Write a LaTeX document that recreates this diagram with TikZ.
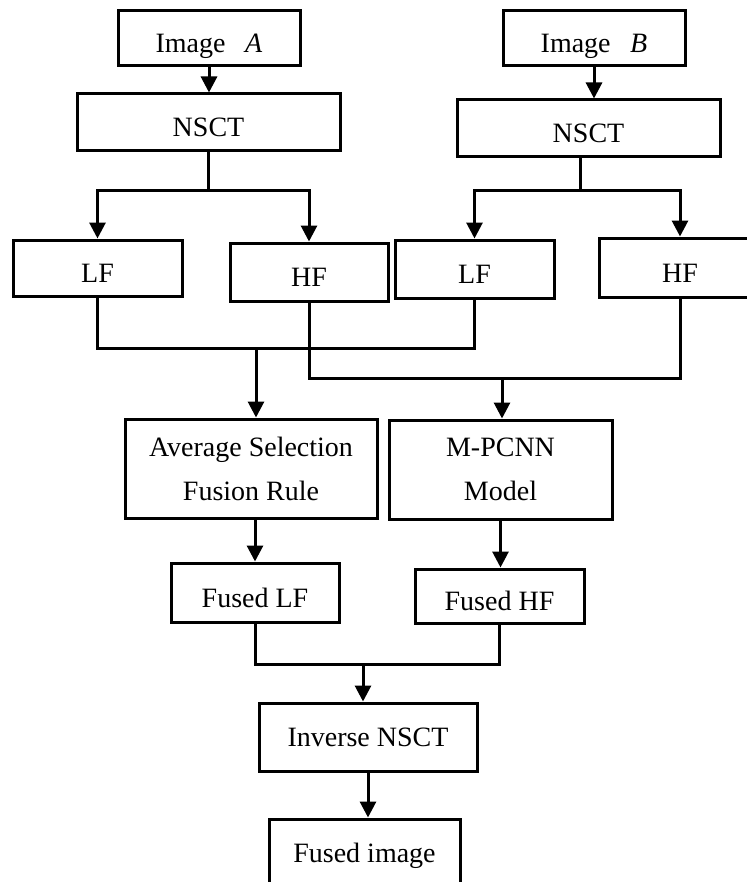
\documentclass[tikz,border=0pt]{standalone}
\usepackage{fontspec}
\setmainfont{Liberation Serif}
\usetikzlibrary{arrows.meta}
\tikzset{
  >={Triangle[length=8pt,width=8pt]},
  blk/.style={draw,line width=1.5pt,inner sep=2pt,text height=14.5pt,text depth=0pt},
  blkt/.style={draw,line width=1.5pt,inner sep=2pt,align=center},
  wire/.style={line width=1.5pt},
}

\begin{document}
\begin{tikzpicture}[x=0.5pt,y=-0.5pt,font=\fontsize{14}{22}\selectfont]
\clip (0,0) rectangle (747,882);

% the two source images
\node[blk,minimum width=91pt,minimum height=27.5pt] (imgA) at (209,38.5) {Image\hspace{0.7em}\textit{A}};
\node[blk,minimum width=91pt,minimum height=27.5pt] (imgB) at (594,38.5) {Image\hspace{0.7em}\textit{B}};
\node[blk,minimum width=131.5pt,minimum height=28.5pt] (nsctA) at (208.5,122.5) {NSCT};
\node[blk,minimum width=131.5pt,minimum height=28.5pt] (nsctB) at (588.5,128.5) {NSCT};

% sub-bands
\node[blk,minimum width=84.5pt,minimum height=28pt] (lfA) at (97.5,268) {LF};
\node[blk,minimum width=79pt,minimum height=29pt] (hfA) at (309,272) {HF};
\node[blk,minimum width=79.5pt,minimum height=29pt] (lfB) at (474.5,269) {LF};
\node[blk,minimum width=81pt,minimum height=29.5pt] (hfB) at (680,267.5) {HF};

% fusion rules
\node[blkt,minimum width=126pt,minimum height=49.5pt] (asf) at (251,468.5) {Average Selection\\Fusion Rule};
\node[blkt,minimum width=111.5pt,minimum height=49.5pt] (mpc) at (500.5,469.5) {M-PCNN\\Model};
\node[blk,minimum width=84pt,minimum height=29.5pt] (flf) at (255,592.5) {Fused LF};
\node[blk,minimum width=84.5pt,minimum height=27pt] (fhf) at (499.5,596) {Fused HF};

% reconstruction
\node[blk,text height=9pt,minimum width=109pt,minimum height=34pt] (inv) at (368,737) {Inverse NSCT};
\node[blk,text height=9pt,minimum width=95.5pt,minimum height=34pt] (fimg) at (364.5,853) {Fused image};

\coordinate (jA) at (nsctA.south |- 0,191);
\coordinate (jB) at (580,191);
\coordinate (mL) at (256,348);
\coordinate (mH) at (502,378);
\coordinate (mF) at (363,664);

\draw[wire,->] (imgA.south) -- (imgA.south |- nsctA.north);
\draw[wire,->] (imgB.south) -- (imgB.south |- nsctB.north);

\draw[wire] (nsctA.south) -- (jA);
\draw[wire,->] (jA) -| (lfA.north);
\draw[wire,->] (jA) -| (hfA.north);
\draw[wire] (nsctB.south -| jB) -- (jB);
\draw[wire,->] (jB) -| (lfB.north);
\draw[wire,->] (jB) -| (hfB.north);

\draw[wire] (lfA.south) |- (mL) -| (lfB.south);
\draw[wire,->] (mL) -- (mL |- asf.north);
\draw[wire] (hfA.south) |- (mH) -| (hfB.south);
\draw[wire,->] (mH) -- (mH |- mpc.north);

\draw[wire,->] (asf.south -| flf.north) -- (flf.north);
\draw[wire,->] (mpc.south) -- (mpc.south |- fhf.north);

\draw[wire] (flf.south) |- (mF) -| (fhf.south);
\draw[wire,->] (mF) -- (mF |- inv.north);
\draw[wire,->] (inv.south) -- (inv.south |- fimg.north);

\end{tikzpicture}
\end{document}
